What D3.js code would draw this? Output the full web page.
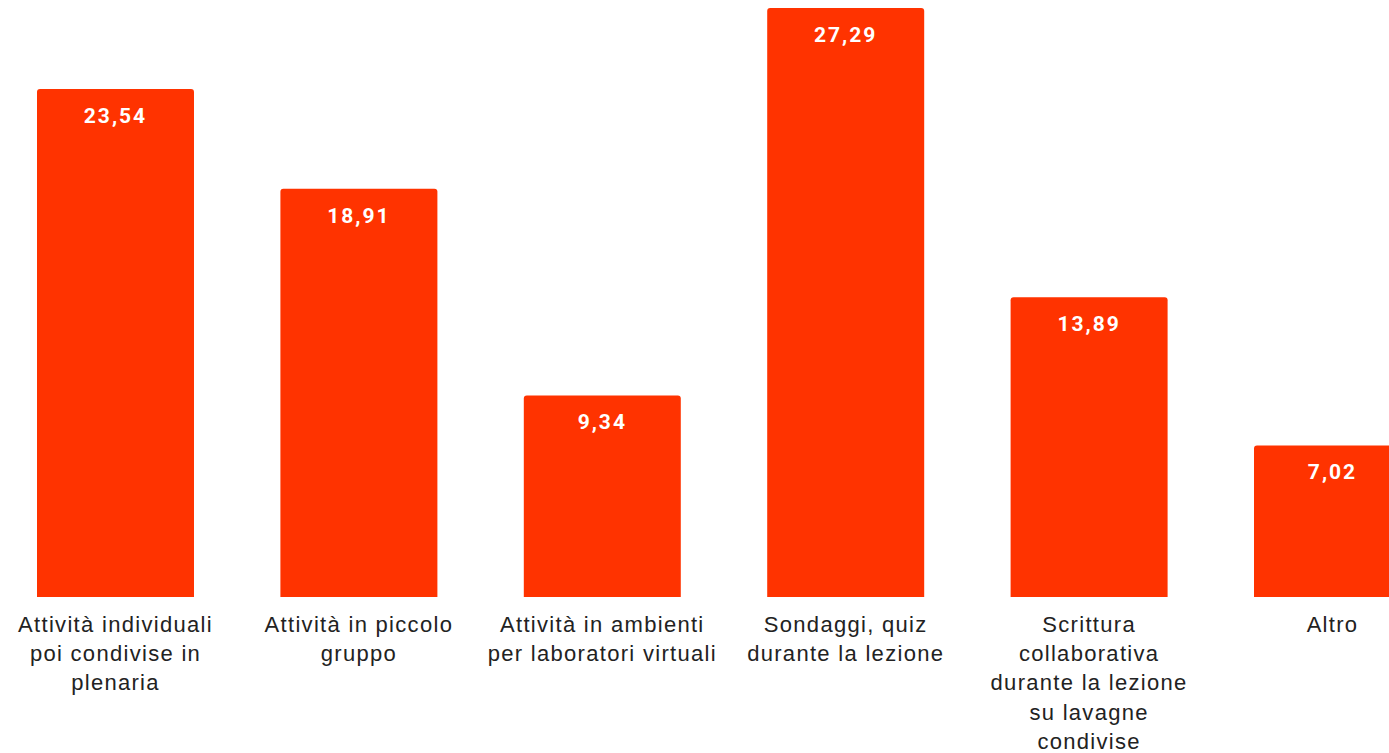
<!DOCTYPE html>
<html>
<head>
<meta charset="utf-8">
<script src="https://cdn.jsdelivr.net/npm/d3@7/dist/d3.min.js"></script>
<style>
  html, body { margin: 0; padding: 0; background: #ffffff; overflow: hidden; }
  svg { display: block; }
</style>
</head>
<body>
<div id="chart"></div>
<script>
// Attività svolte durante la lezione (%)
const categories = [
  "Attività individuali poi condivise in plenaria",
  "Attività in piccolo gruppo",
  "Attività in ambienti per laboratori virtuali",
  "Sondaggi, quiz durante la lezione",
  "Scrittura collaborativa durante la lezione su lavagne condivise",
  "Altro"
];
const values = [23.54, 18.91, 9.34, 27.29, 13.89, 7.02];
// wrapped lines for the category labels
const labelLines = [
  ["Attività individuali", "poi condivise in", "plenaria"],
  ["Attività in piccolo", "gruppo"],
  ["Attività in ambienti", "per laboratori virtuali"],
  ["Sondaggi, quiz", "durante la lezione"],
  ["Scrittura", "collaborativa", "durante la lezione", "su lavagne", "condivise"],
  ["Altro"]
];

const W = 1389, H = 753;
const baseY = 597;

const svg = d3.select("#chart").append("svg")
  .attr("width", W).attr("height", H);

const x = d3.scaleBand()
  .domain(categories)
  .range([37, 1411])
  .paddingInner(0.355)
  .paddingOuter(0);

const y = d3.scaleLinear()
  .domain([0, 27.29])
  .range([baseY, 8]);

const fmt = v => d3.format(".2f")(v).replace(".", ",");

// bars with slightly rounded top corners
const r = 3;
svg.append("g").selectAll("path")
  .data(values)
  .join("path")
  .attr("fill", "#ff3300")
  .attr("d", (d, i) => {
    const x0 = x(categories[i]), w = x.bandwidth();
    const yt = y(d), yb = y(0);
    return `M${x0},${yb}V${yt + r}Q${x0},${yt} ${x0 + r},${yt}H${x0 + w - r}Q${x0 + w},${yt} ${x0 + w},${yt + r}V${yb}Z`;
  });

// value labels inside the bars
svg.append("g").selectAll("text")
  .data(values)
  .join("text")
  .attr("x", (d, i) => x(categories[i]) + x.bandwidth() / 2)
  .attr("y", d => y(d) + 34)
  .attr("text-anchor", "middle")
  .attr("fill", "#ffffff")
  .attr("font-family", "Roboto, 'Noto Sans', sans-serif")
  .attr("font-weight", "bold")
  .attr("font-size", 21)
  .attr("letter-spacing", 2)
  .text(d => fmt(d));

// category axis
const axis = svg.append("g")
  .attr("transform", `translate(0,${baseY})`)
  .call(d3.axisBottom(x).tickSize(0).tickPadding(0));
axis.select(".domain").remove();
axis.selectAll(".tick text").each(function(d, i) {
  const t = d3.select(this);
  t.text(null)
    .attr("y", 0)
    .attr("dy", null)
    .attr("fill", "#222222")
    .attr("font-family", "'Liberation Sans', Arial, sans-serif")
    .attr("font-size", 22)
    .attr("letter-spacing", 1.3);
  labelLines[i].forEach((line, k) => {
    t.append("tspan")
      .attr("x", 0)
      .attr("y", 35 + k * 29.2)
      .text(line);
  });
});
</script>
</body>
</html>
